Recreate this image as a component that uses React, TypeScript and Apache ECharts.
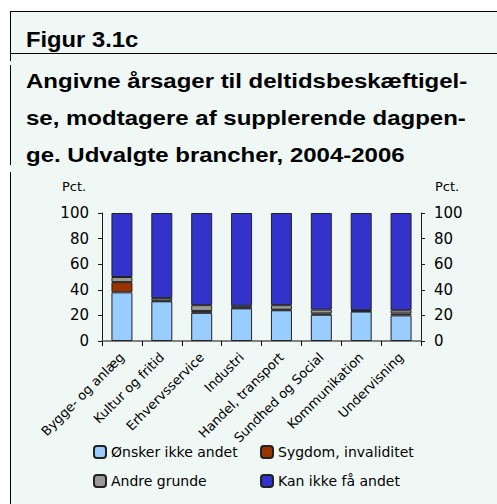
import React, { useEffect, useRef } from "react";
import * as echarts from "echarts";

const categories = [
  "Bygge- og anlæg",
  "Kultur og fritid",
  "Erhvervsservice",
  "Industri",
  "Handel, transport",
  "Sundhed og Social",
  "Kommunikation",
  "Undervisning",
];
const onskerIkkeAndet = [38, 31, 22, 25.5, 24, 20.5, 23, 20];
const sygdom = [8, 0.5, 1.5, 0.5, 0.5, 1, 0.5, 1.5];
const andreGrunde = [4, 2, 4.5, 1.5, 3.5, 3, 0.5, 2.5];
const kanIkkeFaaAndet = [50, 66.5, 72, 72.5, 72, 75.5, 76, 76];

const titleLines = [
  "Angivne årsager til deltidsbeskæftigel-",
  "se, modtagere af supplerende dagpen-",
  "ge. Udvalgte brancher, 2004-2006",
];

const FONT = "'Liberation Sans', Arial, sans-serif";
const DV = "'DejaVu Sans', sans-serif";

export default function App() {
  const ref = useRef<HTMLDivElement>(null);
  useEffect(() => {
    if (!ref.current) return;
    const chart = echarts.init(ref.current, undefined, { renderer: "svg" });
    const border = { color: "#1a1a1a", width: 1 };
    const mk = (name: string, data: number[], color: string) => ({
      name,
      type: "bar" as const,
      stack: "a",
      data,
      barWidth: 21,
      itemStyle: { color, borderColor: "#222", borderWidth: 1 },
    });
    const legendText = { fontSize: 14, color: "#000", fontFamily: DV };
    chart.setOption({
      animation: false,
      textStyle: { fontFamily: DV },
      graphic: [
        { type: "rect", shape: { x: 10, y: 11, width: 487, height: 493 }, style: { fill: "#f0f8f5" }, z: -10 },
        { type: "line", shape: { x1: 10, y1: 11.5, x2: 497, y2: 11.5 }, style: { stroke: "#000", lineWidth: 1 } },
        { type: "line", shape: { x1: 10, y1: 53.5, x2: 497, y2: 53.5 }, style: { stroke: "#000", lineWidth: 1 } },
        { type: "line", shape: { x1: 10.5, y1: 12, x2: 10.5, y2: 61 }, style: { stroke: "#000", lineWidth: 1 } },
        { type: "line", shape: { x1: 10.5, y1: 65, x2: 10.5, y2: 165 }, style: { stroke: "#000", lineWidth: 1 } },
        { type: "line", shape: { x1: 10.5, y1: 172, x2: 10.5, y2: 504 }, style: { stroke: "#000", lineWidth: 1 } },
        {
          type: "text", x: 26, y: 39.5, scaleX: 1.08,
          style: { text: "Figur 3.1c", font: `bold 22px ${FONT}`, fill: "#000", verticalAlign: "middle" },
        },
        ...titleLines.map((t, i) => ({
          type: "text", x: 26, y: 81.3 + i * 37.2, scaleX: 1.2,
          style: { text: t, font: `bold 20px ${FONT}`, fill: "#000", verticalAlign: "middle" },
        })),
        { type: "text", x: 62, y: 186, style: { text: "Pct.", font: `13px ${DV}`, fill: "#000", verticalAlign: "middle" } },
        { type: "text", x: 435, y: 186, style: { text: "Pct.", font: `13px ${DV}`, fill: "#000", verticalAlign: "middle" } },
      ],
      grid: { left: 102, right: 76, top: 213, bottom: 163 },
      legend: [
        {
          left: 93, top: 445, orient: "vertical", itemWidth: 12, itemHeight: 12, itemGap: 15,
          data: ["Ønsker ikke andet", "Andre grunde"],
          textStyle: legendText,
          padding: 0,
        },
        {
          left: 260, top: 445, orient: "vertical", itemWidth: 12, itemHeight: 12, itemGap: 15,
          data: ["Sygdom, invaliditet", "Kan ikke få andet"],
          textStyle: legendText,
          padding: 0,
        },
      ],
      xAxis: {
        type: "category",
        data: categories,
        axisLine: { lineStyle: { color: "#808080", width: 2 } },
        axisTick: { show: true, length: 5, lineStyle: { color: "#000" } },
        axisLabel: { rotate: 45, fontSize: 13, color: "#000", margin: 14, interval: 0, fontFamily: DV },
      },
      yAxis: [
        {
          type: "value", min: 0, max: 100, interval: 20, position: "left",
          axisLine: { show: true, lineStyle: border },
          axisTick: { show: true, length: 4, lineStyle: border },
          splitLine: { show: false },
          axisLabel: { fontSize: 15, color: "#000", margin: 13, fontFamily: DV },
        },
        {
          type: "value", min: 0, max: 100, interval: 20, position: "right",
          axisLine: { show: true, lineStyle: border },
          axisTick: { show: true, length: 4, lineStyle: border },
          splitLine: { show: false },
          axisLabel: { fontSize: 15, color: "#000", margin: 13, fontFamily: DV },
        },
      ],
      series: [
        mk("Ønsker ikke andet", onskerIkkeAndet, "#99ccff"),
        mk("Sygdom, invaliditet", sygdom, "#993300"),
        mk("Andre grunde", andreGrunde, "#999999"),
        mk("Kan ikke få andet", kanIkkeFaaAndet, "#3333cc"),
      ],
    });
    return () => chart.dispose();
  }, []);
  return (
    <div
      ref={ref}
      style={{ position: "absolute", left: 0, top: 0, width: 497, height: 504, background: "#fff" }}
    />
  );
}
